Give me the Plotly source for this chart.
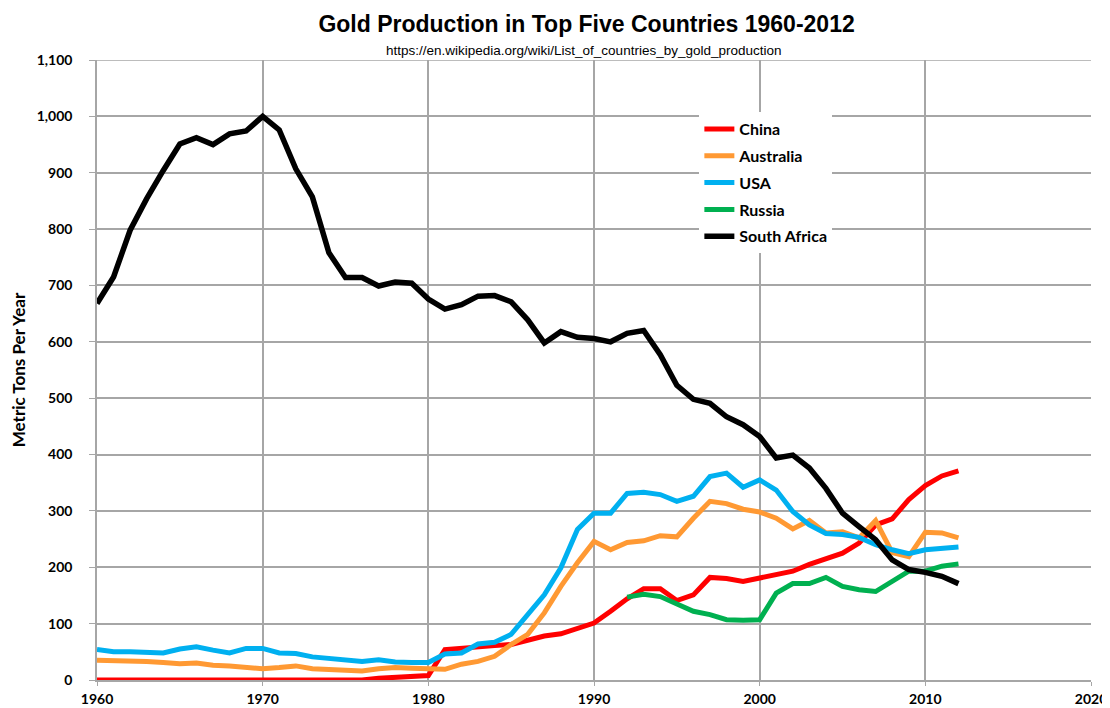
import plotly.graph_objects as go

years = list(range(1960, 2013))

south_africa = [668, 715, 798, 854, 904, 951, 962, 950, 969, 974,
                1000, 976, 907, 857, 758, 714, 714, 699, 706, 704,
                676, 658, 666, 681, 682, 671, 639, 598, 618, 608,
                606, 600, 615, 620, 577, 523, 498, 491, 467, 453,
                432, 394, 399, 376, 340, 296, 272, 249, 213, 196,
                191, 184, 171]

usa = [54, 50, 50, 48, 48, 55, 59, 53, 48, 56,
       56, 48, 47, 41, 38, 35, 33, 36, 32, 31,
       31, 46, 48, 64, 67, 81, 116, 151, 199, 267,
       296, 296, 331, 333, 329, 317, 326, 361, 367, 342,
       355, 337, 299, 275, 260, 258, 253, 240, 231, 224,
       231, 234, 236]

australia = [35, 35, 34, 33, 31, 29, 30, 26, 25, 23,
             20, 22, 25, 20, 18, 17, 16, 20, 22, 21,
             19, 19, 28, 33, 42, 63, 81, 119, 166, 208,
             246, 231, 244, 247, 256, 254, 287, 317, 313, 303,
             298, 287, 268, 283, 261, 263, 252, 283, 226, 219,
             262, 261, 252]

china = [0, 0, 0, 0, 0, 0, 0, 0, 0, 0,
         0, 0, 0, 0, 0, 0, 0, 3, 5, 7,
         8, 54, 57, 59, 61, 63, 70, 78, 82, 92,
         101, 122, 144, 162, 162, 141, 151, 182, 180, 175,
         181, 186, 193, 205, 215, 225, 243, 275, 286, 320,
         345, 362, 371]

russia_years = list(range(1992, 2013))
russia = [147, 152, 148, 134, 122, 116, 107, 106, 107, 154,
          171, 171, 182, 166, 160, 157, 175, 193, 193, 202, 206]

x_ticks = [1960, 1970, 1980, 1990, 2000, 2010, 2020]

series = [
    ("China", years, china, "#ff0000"),
    ("Australia", years, australia, "#ff9933"),
    ("USA", years, usa, "#00b0f0"),
    ("Russia", russia_years, russia, "#00b050"),
    ("South Africa", years, south_africa, "#000000"),
]

fig = go.Figure()
for name, xs, ys, color in series:
    fig.add_trace(go.Scatter(
        x=xs, y=ys, name="<b>" + name + "</b>", mode="lines",
        line=dict(color=color, width=5.5 if name == "South Africa" else 5),
        legendgroup=name,
    ))

tick_font = dict(family="Lato, Open Sans, sans-serif", size=14, color="#000000", weight="bold")

# The page body has an 8px margin, so the figure is drawn 8px right/down.
fig.update_layout(
    width=1102, height=700,
    margin=dict(l=89, r=19, t=52, b=28),
    paper_bgcolor="white", plot_bgcolor="white",
    title=dict(
        text="<b>Gold Production in Top Five Countries 1960-2012</b>",
        x=0.525, xanchor="center", y=0.977, yanchor="middle",
        font=dict(family="Liberation Sans, Arial, sans-serif", size=23, color="#000"),
    ),
    showlegend=True,
    legend=dict(
        x=0.606, y=0.916, xanchor="left", yanchor="top",
        bgcolor="rgba(255,255,255,1)", borderwidth=0,
        font=dict(family="Lato, Open Sans, sans-serif", size=16, color="#000"),
        tracegroupgap=3, itemwidth=30,
    ),
    xaxis=dict(
        range=[1960, 2020], tickvals=x_ticks, ticktext=[str(t) for t in x_ticks],
        showgrid=True, gridcolor="#a6a6a6", gridwidth=1.5,
        showline=True, linecolor="#a6a6a6", linewidth=1.5, mirror=False,
        ticks="outside", ticklen=4, tickcolor="#a6a6a6",
        tickfont=tick_font, zeroline=False, automargin=False,
        ticklabelstandoff=1,
    ),
    yaxis=dict(
        range=[0, 1100], dtick=100, tickformat=",",
        showgrid=True, gridcolor="#a6a6a6", gridwidth=1.5,
        showline=True, linecolor="#a6a6a6", linewidth=1.5,
        ticks="outside", ticklen=6, tickcolor="#a6a6a6",
        tickfont=tick_font, zeroline=False, automargin=False,
        ticklabelstandoff=14,
        title=dict(text="<b>Metric Tons Per Year</b>", standoff=12,
                   font=dict(family="Lato, Open Sans, sans-serif", size=17, color="#000")),
    ),
    annotations=[dict(
        text="https://en.wikipedia.org/wiki/List_of_countries_by_gold_production",
        xref="paper", yref="paper", x=0.49, y=1.0, xanchor="center", yanchor="bottom",
        showarrow=False,
        font=dict(family="Liberation Sans Narrow, Liberation Sans, Arial, sans-serif", size=13.5, color="#000"),
    )],
)

# top border line at 1100
fig.add_shape(type="line", xref="paper", yref="y", x0=0, x1=1, y0=1100, y1=1100,
              line=dict(color="#a6a6a6", width=1.5))

fig.write_html("out.html")
